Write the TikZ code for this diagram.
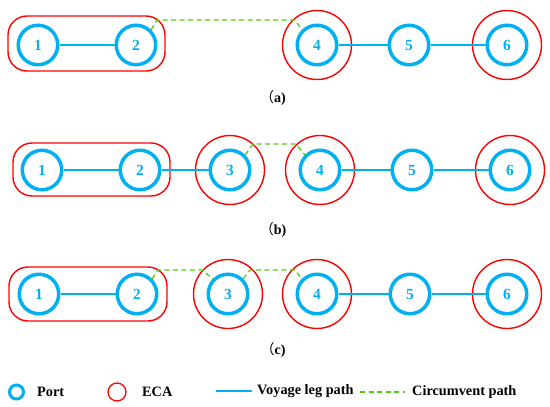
\documentclass[tikz,border=0pt]{standalone}
\usepackage{fontspec}
\setmainfont{Liberation Serif}
\newfontfamily\cjk{Noto Sans CJK SC}
\definecolor{portblue}{HTML}{00B0F0}
\definecolor{ecared}{HTML}{FF0000}
\definecolor{circgreen}{HTML}{55CC11}
\begin{document}
\begin{tikzpicture}[x=1pt,y=-1pt,
  port/.style={circle,draw=portblue,line width=3.5pt,minimum size=39.5pt,inner sep=0pt,text=portblue,font=\bfseries\fontsize{15.5}{15.5}\selectfont},
  eca/.style={circle,draw=ecared,line width=1.4pt,minimum size=69pt,inner sep=0pt},
  ecabox/.style={draw=ecared,line width=1.4pt,rounded corners=19pt},
  leg/.style={draw=portblue,line width=2pt},
  circ/.style={draw=circgreen,line width=1.3pt,dash pattern=on 5pt off 3.5pt},
  sublabel/.style={font=\bfseries\fontsize{14}{14}\selectfont},
  legtext/.style={font=\bfseries\fontsize{14.3}{14.3}\selectfont,anchor=west,inner sep=0pt}]
\useasboundingbox (0,0) rectangle (550,407);
% ---------- (a)
\draw[ecabox] (8,16) rectangle (165,71);
\node[eca] (ea4) at (317,45) {};
\node[eca] (ea6) at (507,45) {};
\node[port] (a1) at (38,45) {1};
\node[port] (a2) at (136,45) {2};
\node[port] (a4) at (317,45) {4};
\node[port] (a5) at (409,45) {5};
\node[port] (a6) at (507,45) {6};
\draw[leg] (a1) -- (a2);
\draw[leg] (a4) -- (a5);
\draw[leg] (a5) -- (a6);
\coordinate (ca1) at (157,20);
\coordinate (ca2) at (295,20);
\draw[circ] (a2.45) -- (ca1) -- (ca2) -- (a4.135);
\node[sublabel] (la) at (273,98) {{\cjk\mdseries （}a)};
% ---------- (b)
\draw[ecabox] (13,143) rectangle (170,196);
\node[eca] (eb3) at (230,170) {};
\node[eca] (eb4) at (320,170) {};
\node[eca] (eb6) at (510,170) {};
\node[port] (b1) at (42,170) {1};
\node[port] (b2) at (140,170) {2};
\node[port] (b3) at (230,170) {3};
\node[port] (b4) at (320,170) {4};
\node[port] (b5) at (412,170) {5};
\node[port] (b6) at (510,170) {6};
\draw[leg] (b1) -- (b2);
\draw[leg] (b2) -- (b3);
\draw[leg] (b4) -- (b5);
\draw[leg] (b5) -- (b6);
\coordinate (cb1) at (253,144);
\coordinate (cb2) at (296,144);
\draw[circ] (b3.45) -- (cb1) -- (cb2) -- (b4.135);
\node[sublabel] (lb) at (273,230) {{\cjk\mdseries （}b)};
% ---------- (c)
\draw[ecabox] (9,267) rectangle (167,321);
\node[eca] (ec3) at (228,294) {};
\node[eca] (ec4) at (317,294) {};
\node[eca] (ec6) at (507,294) {};
\node[port] (c1) at (39,294) {1};
\node[port] (c2) at (137,294) {2};
\node[port] (c3) at (228,294) {3};
\node[port] (c4) at (317,294) {4};
\node[port] (c5) at (410,294) {5};
\node[port] (c6) at (507,294) {6};
\draw[leg] (c1) -- (c2);
\draw[leg] (c4) -- (c5);
\draw[leg] (c5) -- (c6);
\coordinate (cc1) at (158,270);
\coordinate (cc2) at (202,270);
\coordinate (cc3) at (250,270);
\coordinate (cc4) at (295,270);
\draw[circ] (c2.45) -- (cc1) -- (cc2) -- (c3.135);
\draw[circ] (c3.45) -- (cc3) -- (cc4) -- (c4.135);
\node[sublabel] (lc) at (273,350) {{\cjk\mdseries （}c)};
% ---------- legend
\node[circle,draw=portblue,line width=3pt,minimum size=14pt,inner sep=0pt] (lp) at (16.5,392) {};
\node[legtext] (lpt) at (37,392) {Port};
\node[circle,draw=ecared,line width=1.3pt,minimum size=18pt,inner sep=0pt] (le) at (117,392) {};
\node[legtext] (let) at (142,392) {ECA};
\coordinate (lv1) at (216,391);
\coordinate (lv2) at (252,391);
\draw[leg] (lv1) -- (lv2);
\node[legtext] (lvt) at (257,391) {Voyage leg path};
\coordinate (lg1) at (360,392);
\coordinate (lg2) at (405,392);
\draw[circ] (lg1) -- (lg2);
\node[legtext] (lgt) at (412,392) {Circumvent path};
\end{tikzpicture}
\end{document}
